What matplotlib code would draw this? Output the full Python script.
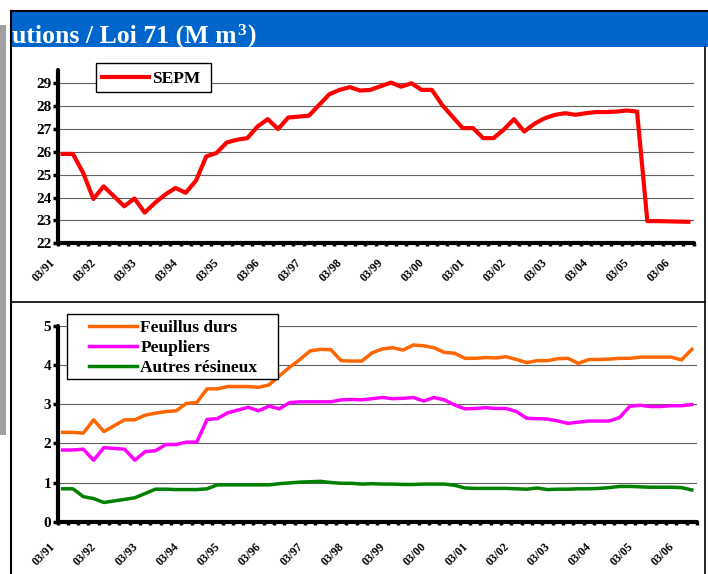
import numpy as np
import matplotlib
matplotlib.use('Agg')
import matplotlib.pyplot as plt
from matplotlib.patches import Rectangle
from matplotlib.transforms import ScaledTranslation

# quarterly volumes, 03/91 .. 12/06 (M m3)
sepm = [25.91, 25.91, 25.08, 23.94, 24.49, 24.06, 23.62, 23.96, 23.34, 23.77,
        24.13, 24.42, 24.21, 24.74, 25.80, 25.95, 26.41, 26.53, 26.60, 27.11,
        27.43, 27.00, 27.50, 27.54, 27.58, 28.05, 28.52, 28.71, 28.83, 28.68,
        28.71, 28.87, 29.03, 28.85, 29.00, 28.71, 28.71, 28.05, 27.54, 27.04,
        27.04, 26.60, 26.60, 26.97, 27.43, 26.89, 27.23, 27.47, 27.62, 27.69,
        27.62, 27.69, 27.74, 27.74, 27.76, 27.81, 27.76, 22.97, 22.97, 22.96,
        22.95, 22.94]

feuillus = [2.28, 2.28, 2.26, 2.60, 2.30, 2.45, 2.60, 2.60, 2.72, 2.77,
            2.81, 2.83, 3.02, 3.04, 3.39, 3.39, 3.45, 3.45, 3.45, 3.43,
            3.49, 3.72, 3.94, 4.14, 4.36, 4.40, 4.39, 4.11, 4.10, 4.10,
            4.31, 4.41, 4.44, 4.38, 4.51, 4.49, 4.44, 4.32, 4.30, 4.17,
            4.17, 4.19, 4.18, 4.21, 4.14, 4.06, 4.11, 4.11, 4.16, 4.17,
            4.04, 4.14, 4.14, 4.15, 4.17, 4.17, 4.20, 4.20, 4.20, 4.20,
            4.13, 4.40]

peupliers = [1.83, 1.83, 1.85, 1.57, 1.89, 1.87, 1.85, 1.57, 1.79, 1.81,
             1.97, 1.97, 2.03, 2.03, 2.61, 2.63, 2.78, 2.85, 2.92, 2.83,
             2.95, 2.88, 3.04, 3.06, 3.06, 3.06, 3.06, 3.11, 3.12, 3.11,
             3.14, 3.17, 3.14, 3.15, 3.17, 3.08, 3.17, 3.11, 2.98, 2.88,
             2.89, 2.91, 2.89, 2.89, 2.81, 2.64, 2.63, 2.62, 2.57, 2.51,
             2.54, 2.57, 2.57, 2.57, 2.66, 2.95, 2.97, 2.94, 2.94, 2.96,
             2.96, 2.99]

autres = [0.84, 0.84, 0.64, 0.59, 0.49, 0.53, 0.57, 0.61, 0.72, 0.83,
          0.83, 0.82, 0.82, 0.82, 0.84, 0.94, 0.94, 0.94, 0.94, 0.94,
          0.94, 0.97, 0.99, 1.01, 1.02, 1.03, 1.00, 0.98, 0.98, 0.96,
          0.97, 0.96, 0.96, 0.95, 0.95, 0.96, 0.96, 0.96, 0.93, 0.86,
          0.85, 0.85, 0.85, 0.85, 0.84, 0.83, 0.86, 0.82, 0.83, 0.83,
          0.84, 0.84, 0.85, 0.87, 0.90, 0.90, 0.89, 0.88, 0.88, 0.88,
          0.87, 0.81]

x_labels = ['03/91', '03/92', '03/93', '03/94', '03/95', '03/96', '03/97', '03/98',
            '03/99', '03/00', '03/01', '03/02', '03/03', '03/04', '03/05', '03/06']

plt.rcParams['font.family'] = 'Liberation Serif'
plt.rcParams['font.weight'] = 'bold'

W, H = 708, 574
fig = plt.figure(figsize=(W / 100, H / 100), dpi=100)


def px_box(x0, y0, x1, y1):
    return [x0 / W, 1 - y1 / H, (x1 - x0) / W, (y1 - y0) / H]


# background: title bar, frames
bg = fig.add_axes([0, 0, 1, 1])
bg.set_xlim(0, W)
bg.set_ylim(H, 0)
bg.axis('off')
bg.set_zorder(-1)
bg.add_patch(Rectangle((0, 25), 6, 410, color='#a0a0a0', lw=0))
bg.add_patch(Rectangle((12, 12), 696, 35, color='#0066cc', lw=0))
bg.plot([11, 708], [11, 11], color='black', lw=1.5)
bg.plot([11, 11], [11, 574], color='black', lw=1.5)
bg.plot([704.5, 704.5], [47, 574], color='black', lw=1.2)
bg.plot([11, 704.5], [302, 302], color='black', lw=1.2)

t1 = bg.text(12.5, 42.7, 'utions / Loi 71 (M m', color='white', fontsize=18.5,
             fontweight='bold', ha='left', va='baseline')
t2 = bg.annotate('3', xy=(1, 1), xycoords=t1, xytext=(0.5, 1.5), textcoords='offset points',
                 color='white', fontsize=12.5, fontweight='bold', ha='left', va='top')
bg.annotate(')', xy=(1, 0), xycoords=(t2, t1), xytext=(0.5, 0), textcoords='offset points',
            color='white', fontsize=18.5, fontweight='bold', ha='left', va='bottom')

x = np.arange(len(sepm))
lab_shift = ScaledTranslation(-0.05, 0, fig.dpi_scale_trans)
leg_font = dict(family='Liberation Serif', weight='bold', size=12.5)


def style_axis(ax, label_pad):
    ax.set_xlim(-0.5, len(x) - 0.5)
    for s in ['top', 'right']:
        ax.spines[s].set_visible(False)
    for s in ['left', 'bottom']:
        ax.spines[s].set_linewidth(3)
        ax.spines[s].set_capstyle('round')
    ax.yaxis.grid(True, color='#606060', lw=0.8)
    ax.set_axisbelow(True)
    ax.set_xticks(np.arange(0, len(x), 4))
    ax.set_xticklabels(x_labels, rotation=45, ha='right', fontsize=8.5, fontweight='bold')
    ax.set_xticks(np.arange(-0.5, len(x), 1), minor=True)
    ax.tick_params(axis='x', which='major', length=0, pad=label_pad)
    ax.tick_params(axis='x', which='minor', length=2, width=2.5, direction='out')
    ax.tick_params(axis='y', length=3.5, width=2.5, pad=1, labelsize=11)
    for lbl in ax.get_yticklabels():
        lbl.set_fontweight('bold')
    for lbl in ax.get_xticklabels():
        lbl.set_transform(lbl.get_transform() + lab_shift)


# top chart: SEPM
ax1 = fig.add_axes(px_box(57.5, 70, 693.5, 243.3))
ax1.plot(x, sepm, color='#ff0000', lw=3.0, label='SEPM')
ax1.set_ylim(22, 29.58)
ax1.set_yticks(range(22, 30))
style_axis(ax1, 9.6)
ax1.add_patch(Rectangle((95.7 / W, 1 - 92.3 / H), 115 / W, 29 / H, transform=fig.transFigure,
                        fc='white', ec='black', lw=1, zorder=4, clip_on=False))
leg1 = ax1.legend(loc='upper left', bbox_to_anchor=(101.7 / W, 1 - 71 / H),
                  bbox_transform=fig.transFigure, frameon=False, borderpad=0, borderaxespad=0,
                  handlelength=2.7, handletextpad=0.2, prop=leg_font)
leg1.set_zorder(6)

# bottom chart: other species
ax2 = fig.add_axes(px_box(57.5, 325.8, 697, 521.7))
ax2.plot(x, feuillus, color='#ff6600', lw=2.5, label='Feuillus durs')
ax2.plot(x, peupliers, color='#ff00ff', lw=2.5, label='Peupliers')
ax2.plot(x, autres, color='#008000', lw=2.5, label='Autres résineux')
ax2.set_ylim(0, 5)
ax2.set_yticks(range(0, 6))
style_axis(ax2, 13.7)
ax2.add_patch(Rectangle((66.7 / W, 1 - 379.3 / H), 211.6 / W, 65.3 / H, transform=fig.transFigure,
                        fc='white', ec='black', lw=1, zorder=4, clip_on=False))
leg2 = ax2.legend(loc='upper left', bbox_to_anchor=(89 / W, 1 - 319.5 / H),
                  bbox_transform=fig.transFigure, frameon=False, borderpad=0, borderaxespad=0,
                  handlelength=2.75, handletextpad=0.2, labelspacing=0.22, prop=leg_font)
leg2.set_zorder(6)

fig.savefig('out.png', dpi=100)
